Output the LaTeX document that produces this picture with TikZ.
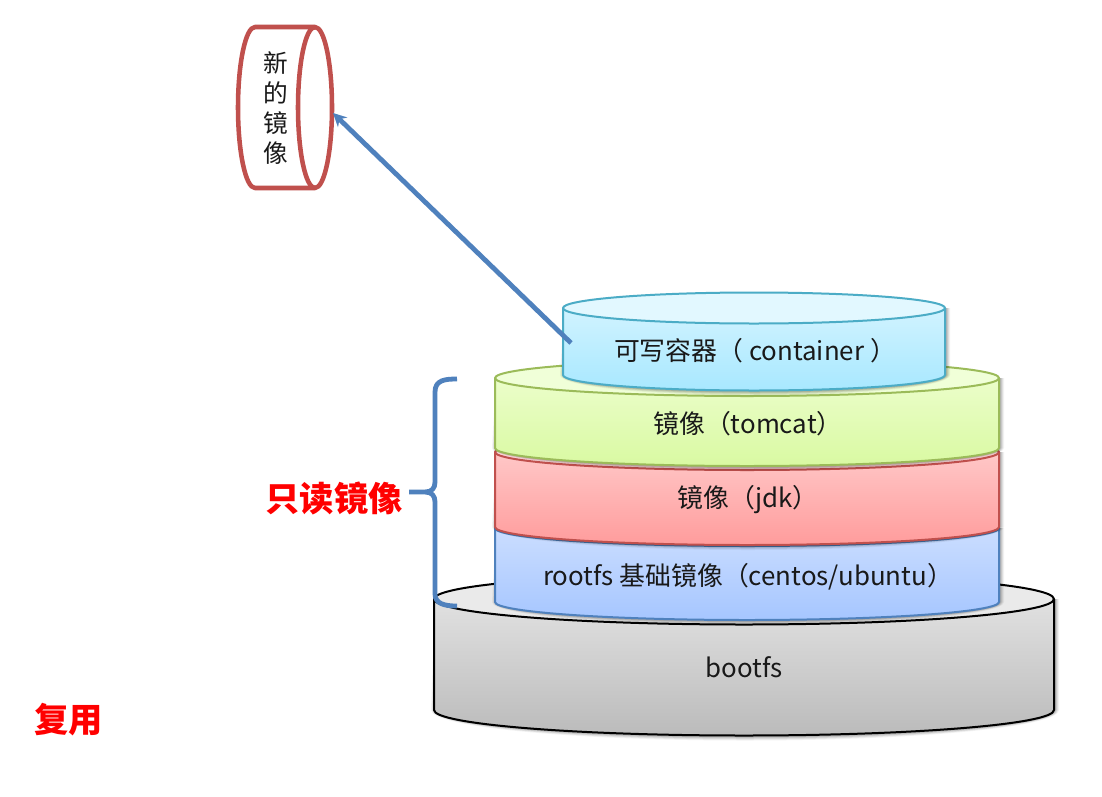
\documentclass[tikz,border=0pt]{standalone}
\usepackage{fontspec}
\setmainfont{Noto Sans CJK SC}
\usetikzlibrary{arrows.meta}
\definecolor{ablue}{HTML}{4F81BD}
\definecolor{ared}{HTML}{C0504D}
\definecolor{agreen}{HTML}{9BBB59}
\definecolor{acyan}{HTML}{4BACC6}
\definecolor{gT}{HTML}{E8E8E8}\definecolor{gB}{HTML}{BBBBBB}\definecolor{gC}{HTML}{EAEAEA}
\definecolor{bT}{HTML}{D2E2FF}\definecolor{bB}{HTML}{A6C6FF}\definecolor{bC}{HTML}{D8E6FF}
\definecolor{rT}{HTML}{FFD0D0}\definecolor{rB}{HTML}{FF9C9C}\definecolor{rC}{HTML}{FFDCDC}
\definecolor{lT}{HTML}{EFFFD2}\definecolor{lB}{HTML}{D9F9A2}\definecolor{lC}{HTML}{F0FFD8}
\definecolor{cT}{HTML}{D8F5FF}\definecolor{cB}{HTML}{A8E8FF}\definecolor{cC}{HTML}{E2F8FF}
\tikzset{
  lab/.style={font=\fontsize{19.4}{23}\selectfont, text=black!90, inner sep=0pt},
  hot/.style={font=\fontsize{25.7}{29}\selectfont\bfseries, text=red, inner sep=0pt},
  conn/.style={draw=ablue, line width=3.6pt},
}
% \cyl{x1}{x2}{top cy}{bottom cy}{ry}{top colour}{bottom colour}{cap colour}{line}
\newcommand{\cyl}[9]{%
  \pgfmathsetmacro{\rx}{((#2)-(#1))/2}
  \pgfmathsetmacro{\mx}{((#2)+(#1))/2}
  \foreach \d/\op in {8/.05,6/.07,4/.09,2/.11}{
    \fill[black,opacity=\op] (#1+1,#3) -- (#2+\d/2+1,#3) -- (#2+\d/2+1,#4)
      arc[start angle=0,end angle=180,x radius=\rx+\d/2,y radius=#5+\d/2+1] -- cycle;
  }
  \path[top color=#6,bottom color=#7]
    (#1,#3) arc[start angle=180,end angle=360,x radius=\rx,y radius=#5] -- (#2,#4)
    arc[start angle=0,end angle=180,x radius=\rx,y radius=#5] -- cycle;
  \path[fill=#8] (\mx,#3) ellipse[x radius=\rx,y radius=#5];
  \draw[#9,line width=1.5pt,line join=round]
    (#1,#3) arc[start angle=180,end angle=360,x radius=\rx,y radius=#5] -- (#2,#4)
    arc[start angle=0,end angle=180,x radius=\rx,y radius=#5] -- cycle;
  \draw[#9,line width=1.5pt] (#1,#3) arc[start angle=180,end angle=0,x radius=\rx,y radius=#5];
}
\begin{document}
\begin{tikzpicture}[x=0.75pt,y=-0.75pt]
\useasboundingbox (0,0) rectangle (1102,796);
\fill[white] (0,0) rectangle (1102,796);

% bootfs
\cyl{434}{1054}{599}{710}{25.5}{gT}{gB}{gC}{black}
\node[lab] (bootfs) at (744,667) {bootfs};

% rootfs
\cyl{495}{999}{528}{602}{18}{bT}{bB}{bC}{ablue}
\node[lab] (rootfs) at (748,577) {rootfs 基础镜像（centos/ubuntu）};

% jdk
\cyl{495}{999}{452}{527}{18}{rT}{rB}{rC}{ared}
\node[lab] (jdk) at (748,500) {镜像（jdk）};

% tomcat
\cyl{495}{999}{378}{448}{18}{lT}{lB}{lC}{agreen}
\node[lab] (tomcat) at (748,424) {镜像（tomcat）};

% container
\cyl{563}{945}{308}{375}{15.5}{cT}{cB}{cC}{acyan}
\node[lab] (container) at (755,351) {可写容器（ container ）};
\coordinate (from) at (571,343);

% new image: horizontal cylinder
\draw[ared,line width=3.4pt,fill=white,line join=round]
  (255,27) -- (315,27) arc[start angle=-90,end angle=90,x radius=17,y radius=80.5]
  -- (255,188) arc[start angle=90,end angle=270,x radius=17,y radius=80.5] -- cycle;
\draw[ared,line width=3.4pt]
  (315,27) arc[start angle=270,end angle=90,x radius=17,y radius=80.5];
\node[lab,align=center,font=\fontsize{18.5}{22.3}\selectfont] (newimg) at (276,108) {新\\的\\镜\\像};
\coordinate (to) at (333,113);

% arrow
\draw[conn,-{Stealth[length=10pt,width=10pt]}] (from) -- (to);

% brace
\coordinate (bt) at (457,379);
\coordinate (bb) at (457,606);
\coordinate (bm) at (409,492);
\draw[conn,line join=round]
  (bt) .. controls (445,379) and (435,380) .. (435,392)
  -- (435,482) .. controls (435,488) and (432,492) .. (425,492) -- (bm)
  (425,492) .. controls (432,492) and (435,496) .. (435,502)
  -- (435,594) .. controls (435,604) and (445,606) .. (bb);

\node[hot,anchor=east] (readonly) at (403,498) {只读镜像};
\node[hot,anchor=west] (reuse) at (34,720) {复用};
\end{tikzpicture}
\end{document}
